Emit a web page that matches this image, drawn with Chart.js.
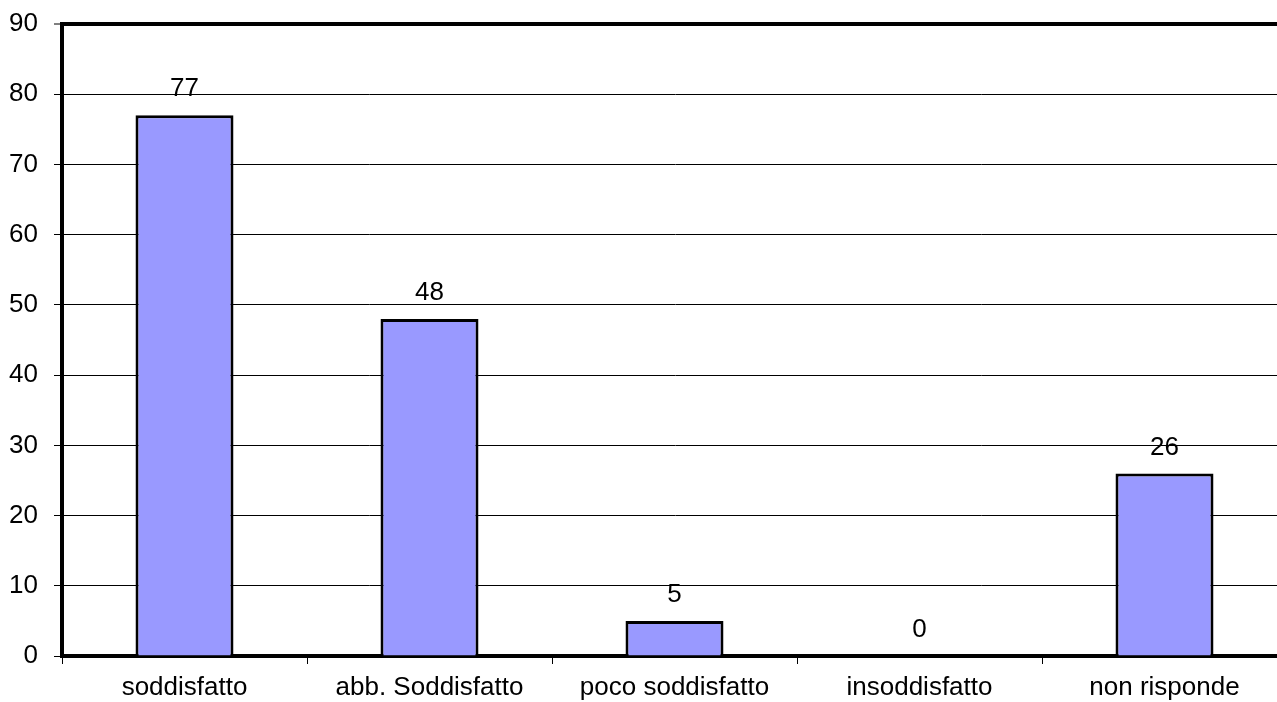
<!DOCTYPE html>
<html>
<head>
<meta charset="utf-8">
<script src="https://cdn.jsdelivr.net/npm/chart.js@4/dist/chart.umd.min.js"></script>
<style>
  html, body { margin: 0; padding: 0; background: #fff; overflow: hidden; }
  #wrap { width: 1292px; height: 702px; }
</style>
</head>
<body>
<div id="wrap"><canvas id="chart" width="1292" height="702"></canvas></div>
<script>
const categories = ["soddisfatto", "abb. Soddisfatto", "poco soddisfatto", "insoddisfatto", "non risponde"];
const values = [77, 48, 5, 0, 26];
const yTicks = [0, 10, 20, 30, 40, 50, 60, 70, 80, 90];

const FONT = "Arial, 'Liberation Sans', sans-serif";

// numbers over each bar
const barLabels = {
  id: "barLabels",
  afterDatasetsDraw(chart) {
    const ctx = chart.ctx;
    const meta = chart.getDatasetMeta(0);
    ctx.save();
    ctx.font = "26px " + FONT;
    ctx.fillStyle = "#000";
    ctx.textAlign = "center";
    ctx.textBaseline = "middle";
    meta.data.forEach((bar, i) => {
      ctx.fillText(String(values[i]), bar.x, bar.y - 26);
    });
    ctx.restore();
  }
};

new Chart(document.getElementById("chart"), {
  type: "bar",
  data: {
    labels: categories,
    datasets: [{
      data: values,
      backgroundColor: "#9999ff",
      borderColor: "#000",
      borderWidth: 3,
      barPercentage: 0.4,
      categoryPercentage: 1
    }]
  },
  options: {
    responsive: false,
    animation: false,
    layout: { padding: { top: 24, right: 5, left: 0, bottom: 0 } },
    plugins: { legend: { display: false }, tooltip: { enabled: false } },
    scales: {
      x: {
        offset: true,
        grid: { drawOnChartArea: false, color: "#000", tickLength: 8, offset: true },
        border: { color: "#000", width: 4 },
        ticks: { color: "#000", font: { family: FONT, size: 26 }, padding: 8, maxRotation: 0 },
        afterFit(s) { s.height = 46; }
      },
      y: {
        min: 0,
        max: 90,
        afterBuildTicks(s) { s.ticks = yTicks.map(v => ({ value: v })); },
        grid: {
          color: "#000",
          lineWidth: (c) => (c.tick && c.tick.value === 90 ? 4 : 1),
          tickWidth: 1,
          tickLength: 8
        },
        border: { color: "#000", width: 4 },
        ticks: { color: "#000", font: { family: FONT, size: 26 }, padding: 16 },
        afterFit(s) { s.width = 62; s.paddingTop = 0; s.paddingBottom = 0; }
      }
    }
  },
  plugins: [barLabels]
});
</script>
</body>
</html>
